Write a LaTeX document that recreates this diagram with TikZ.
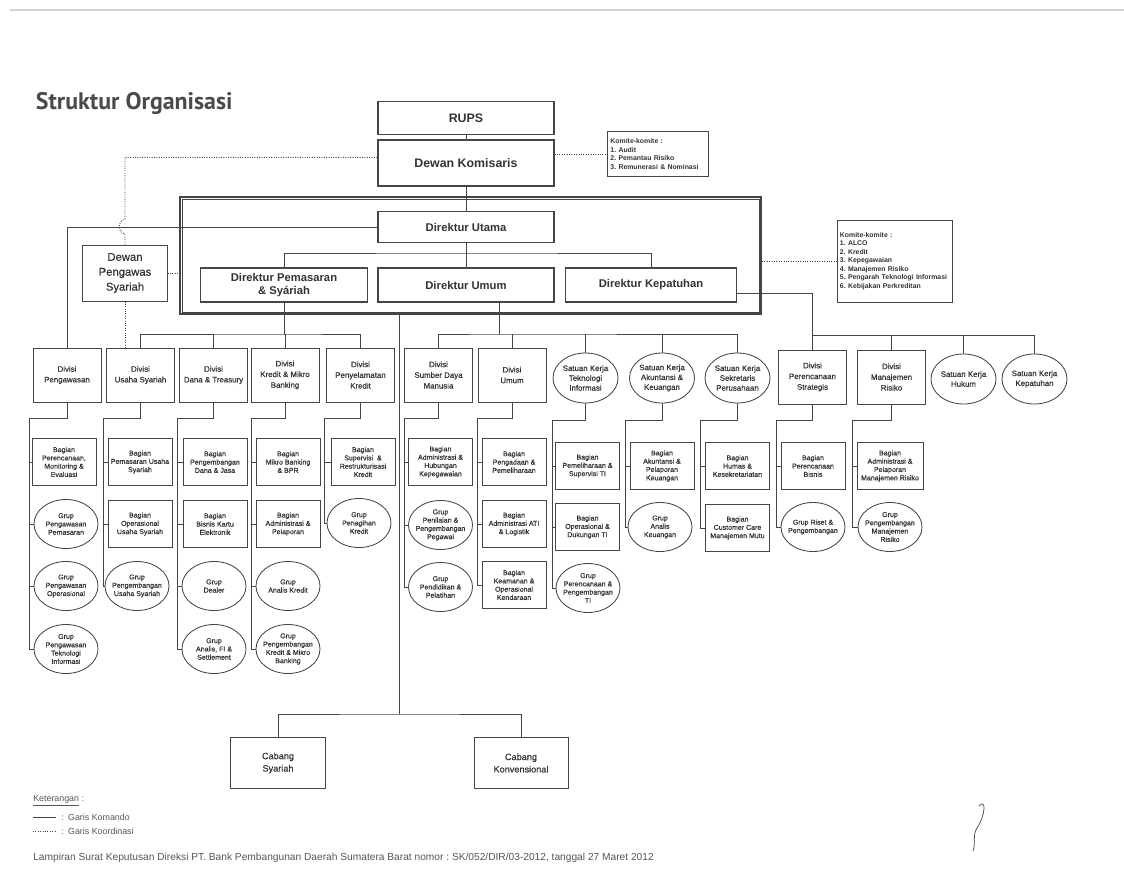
\documentclass[tikz,border=0pt]{standalone}
\usepackage{fontspec}
\setmainfont{Liberation Sans}
\newfontfamily\titlefont{PT Sans}
\newfontfamily\scanfont{Liberation Sans}[FakeBold=0.5]
\usepackage{tikz}
\usetikzlibrary{positioning,shapes.geometric}
\definecolor{ink}{HTML}{333333}
\definecolor{rule}{HTML}{454545}
\definecolor{judulgray}{HTML}{4A4A4A}
\definecolor{notegray}{HTML}{555555}

\begin{document}
\frenchspacing
\begin{tikzpicture}[x=0.025cm,y=-0.025cm,
  every node/.style={text=ink},
  komando/.style={draw=rule,line width=0.6pt},
  koord/.style={draw=rule,line width=0.7pt,densely dotted},
  topbox/.style={draw=rule,line width=0.9pt,rectangle,inner sep=1pt,minimum width=4.4cm,font=\fontsize{8.8}{10}\selectfont\bfseries},
  dirbox/.style={draw=rule,line width=0.8pt,rectangle,inner sep=1pt,minimum height=0.85cm,align=center,font=\fontsize{8}{9.6}\selectfont\bfseries},
  komite/.style={draw=rule,line width=0.7pt,rectangle,inner xsep=2pt,align=left,font=\fontsize{4.9}{6}\selectfont\bfseries},
  divbox/.style={draw=rule,line width=0.6pt,rectangle,inner sep=1pt,minimum width=1.7cm,minimum height=1.35cm,align=center,font=\scanfont\fontsize{5.6}{7.6}\selectfont},
  skell/.style={draw=rule,line width=0.6pt,ellipse,inner sep=-2pt,minimum width=1.625cm,minimum height=1.25cm,align=center,font=\scanfont\fontsize{5.6}{7}\selectfont},
  subbox/.style={draw=rule,line width=0.6pt,rectangle,inner sep=1pt,minimum width=1.6cm,minimum height=1.175cm,align=center,font=\scanfont\fontsize{5}{5.9}\selectfont},
  grup/.style={draw=rule,line width=0.6pt,ellipse,inner sep=-2pt,minimum width=1.6cm,minimum height=1.225cm,align=center,font=\scanfont\fontsize{5}{5.9}\selectfont},
  cabbox/.style={draw=rule,line width=0.7pt,rectangle,inner sep=1pt,minimum width=2.35cm,minimum height=1.275cm,align=center,font=\scanfont\fontsize{6.5}{8.8}\selectfont}
]
\useasboundingbox (0,0) rectangle (1124,894);
\draw[gray!35,line width=1pt] (10,10) -- (1124,10);

% judul
\node[anchor=west,text=judulgray,font=\titlefont\bfseries\fontsize{17}{20}\selectfont] (judul) at (31,103) {Struktur Organisasi};

% pimpinan
\node[topbox,minimum height=0.825cm] (rups) at (466,118) {RUPS};
\node[topbox,minimum height=1.15cm] (dk) at (466,163) {Dewan Komisaris};
\node[draw=rule,line width=1.4pt,inner sep=0pt,minimum width=14.525cm,minimum height=2.925cm] (frame) at (470.5,255.5) {};
\draw[rule,line width=0.5pt] ([shift={(3,3)}]frame.north west) rectangle ([shift={(-3,-3)}]frame.south east);
\node[dirbox,minimum width=4.4cm,minimum height=0.775cm] (dirut) at (466,227) {Direktur Utama};
\node[dirbox,minimum width=4.175cm] (dirps) at (284,285) {Direktur Pemasaran\\\& Syáriah};
\node[dirbox,minimum width=4.4cm] (dirum) at (466,285) {Direktur Umum};
\node[dirbox,minimum width=4.275cm] (dirkep) at (651,285) {Direktur Kepatuhan};

\node[komite,text width=2.375cm,minimum height=1.125cm] (kom1) at (658,154) {Komite-komite :\\1. Audit\\2. Pemantau Risiko\\3. Remunerasi \& Nominasi};
\node[komite,text width=2.75cm,minimum height=2.05cm] (kom2) at (895,261) {Komite-komite :\\1. ALCO\\2. Kredit\\3. Kepegawaian\\4. Manajemen Risiko\\5. Pengarah Teknologi Informasi\\6. Kebijakan Perkreditan};

\node[draw=rule,line width=0.7pt,rectangle,minimum width=2.1cm,minimum height=1.4cm,align=center,font=\scanfont\fontsize{8}{10.6}\selectfont] (dps) at (125,273) {Dewan\\Pengawas\\Syariah};

% divisi dan satuan kerja
\node[divbox] (divpeng) at (67,375) {Divisi\\Pengawasan};
\node[divbox] (divus) at (140.5,375) {Divisi\\Usaha Syariah};
\node[divbox] (divdt) at (213.5,375) {Divisi\\Dana \& Treasury};
\node[divbox] (divkmb) at (285,375) {Divisi\\Kredit \& Mikro\\Banking};
\node[divbox] (divpk) at (360.5,375) {Divisi\\Penyelamatan\\Kredit};
\node[divbox] (divsdm) at (438.5,375) {Divisi\\Sumber Daya\\Manusia};
\node[divbox] (divum) at (512,375) {Divisi\\Umum};
\node[skell] (skti) at (585.5,378) {Satuan Kerja\\Teknologi\\Informasi};
\node[skell] (skak) at (662,378) {Satuan Kerja\\Akuntansi \&\\Keuangan};
\node[skell] (sksp) at (737.5,378) {Satuan Kerja\\Sekretaris\\Perusahaan};
\node[divbox] (divps) at (812.5,377) {Divisi\\Perencanaan\\Strategis};
\node[divbox] (divmr) at (891.5,377) {Divisi\\Manajemen\\Risiko};
\node[skell] (skh) at (963.5,379) {Satuan Kerja\\Hukum};
\node[skell] (skk) at (1034.5,379) {Satuan Kerja\\Kepatuhan};

% bagian dan grup
\node[subbox] (c1a) at (64,462) {Bagian\\Perencanaan,\\Monitoring \&\\Evaluasi};
\node[grup] (c1b) at (66,524) {Grup\\Pengawasan\\Pemasaran};
\node[grup] (c1c) at (66,586) {Grup\\Pengawasan\\Operasional};
\node[grup] (c1d) at (66,649) {Grup\\Pengawasan\\Teknologi\\Informasi};

\node[subbox] (c2a) at (140,462) {Bagian\\Pemasaran Usaha\\Syariah};
\node[subbox] (c2b) at (140,524) {Bagian\\Operasional\\Usaha Syariah};
\node[grup] (c2c) at (137,586) {Grup\\Pengembangan\\Usaha Syariah};

\node[subbox] (c3a) at (215,462) {Bagian\\Pengembangan\\Dana \& Jasa};
\node[subbox] (c3b) at (215,524) {Bagian\\Bisnis Kartu\\Elektronik};
\node[grup] (c3c) at (214,586) {Grup\\Dealer};
\node[grup] (c3d) at (214,649) {Grup\\Analis, FI \&\\Settlement};

\node[subbox] (c4a) at (288,462) {Bagian\\Mikro Banking\\\& BPR};
\node[subbox] (c4b) at (288,524) {Bagian\\Administrasi \&\\Pelaporan};
\node[grup] (c4c) at (288,586) {Grup\\Analis Kredit};
\node[grup] (c4d) at (288,649) {Grup\\Pengembangan\\Kredit \& Mikro\\Banking};

\node[subbox] (c5a) at (363,462) {Bagian\\Supervisi \ \&\\Restrukturisasi\\Kredit};
\node[grup] (c5b) at (359,523) {Grup\\Penagihan\\Kredit};

\node[subbox] (c6a) at (440.5,462) {Bagian\\Administrasi \&\\Hubungan\\Kepegawaian};
\node[grup] (c6b) at (440.5,525) {Grup\\Penilaian \&\\Pengembangan\\Pegawai};
\node[grup] (c6c) at (440.5,587) {Grup\\Pendidikan \&\\Pelatihan};

\node[subbox] (c7a) at (514,462) {Bagian\\Pengadaan \&\\Pemeliharaan};
\node[subbox] (c7b) at (514,524) {Bagian\\Administrasi ATI\\\& Logistik};
\node[subbox] (c7c) at (514,585) {Bagian\\Keamanan \&\\Operasional\\Kendaraan};

\node[subbox] (c8a) at (587.5,466) {Bagian\\Pemeliharaan \&\\Supervisi TI};
\node[subbox] (c8b) at (587.5,527) {Bagian\\Operasional \&\\Dukungan TI};
\node[grup] (c8c) at (588,588) {Grup\\Perencanaan \&\\Pengembangan\\TI};

\node[subbox] (c9a) at (662,466) {Bagian\\Akuntansi \&\\Pelaporan\\Keuangan};
\node[grup] (c9b) at (660,527) {Grup\\Analis\\Keuangan};

\node[subbox] (c10a) at (737.5,466) {Bagian\\Humas \&\\Kesekretariatan};
\node[subbox] (c10b) at (737.5,528) {Bagian\\Customer Care\\Manajemen Mutu};

\node[subbox] (c11a) at (813,466) {Bagian\\Perencanaan\\Bisnis};
\node[grup] (c11b) at (813,527) {Grup Riset \&\\Pengembangan};

\node[subbox,minimum width=1.65cm] (c12a) at (890,466) {Bagian\\Administrasi \&\\Pelaporan\\Manajemen Risiko};
\node[grup] (c12b) at (890,527) {Grup\\Pengembangan\\Manajemen\\Risiko};

% cabang
\node[cabbox] (cabs) at (278,763) {Cabang\\Syariah};
\node[cabbox] (cabk) at (521,763) {Cabang\\Konvensional};

% garis komando atas
\coordinate (bus0) at (466,253);
\coordinate (bus1) at (284,334);
\coordinate (bus2) at (499,334);
\coordinate (bus4) at (813,335);
\coordinate (bus3) at (399,714);
\draw[komando] (rups) -- (dk);
\draw[komando] (dk) -- (dirut);
\draw[komando] (dirut) -- (bus0);
\draw[komando] (dirps.north) |- (bus0) -| (dirkep.north);
\draw[komando] (bus0) -- (dirum);
\draw[komando] (dirut.west) -| (divpeng.north);

\draw[komando] (dirps.south) -- (bus1);
\draw[komando] (divus.north) |- (bus1) -| (divpk.north);
\draw[komando] (bus1 -| divdt) -- (divdt.north);
\draw[komando] (bus1 -| divkmb) -- (divkmb.north);

\draw[komando] (bus2 |- dirum.south) -- (bus2);
\draw[komando] (divsdm.north) |- (bus2) -| (sksp.north);
\draw[komando] (bus2 -| divum) -- (divum.north);
\draw[komando] (bus2 -| skti) -- (skti.north);
\draw[komando] (bus2 -| skak) -- (skak.north);

\draw[komando] ([yshift=-6pt]dirkep.east) -| (divps.north);
\draw[komando] (bus4) -| (skk.north);
\draw[komando] (bus4 -| divmr) -- (divmr.north);
\draw[komando] (bus4 -| skh) -- (skh.north);

\draw[komando] (frame.south -| bus3) -- (bus3);
\draw[komando] (cabs.north) |- (bus3) -| (cabk.north);

% garis koordinasi
\coordinate (hopA) at (125,219);
\coordinate (hopB) at (125,234);
\draw[koord] ([yshift=4pt]dk.west) -| (hopA) .. controls +(-8,3) and +(-8,-3) .. (hopB) -- (dps.north);
\draw[koord] (dps.east) -- (dps.east -| frame.west);
\draw[koord] (dps.south) -- (dps.south |- divus.north);
\draw[koord] (kom1.west -| dk.east) -- (kom1.west);
\draw[koord] (kom2.west -| frame.east) -- (kom2.west);

% garis ke bagian / grup
\coordinate (s1) at (29,418);
\coordinate (s2) at (103,418);
\coordinate (s3) at (177,418);
\coordinate (s4) at (251,418);
\coordinate (s5) at (324,418);
\coordinate (s6) at (404,418);
\coordinate (s7) at (477,418);
\coordinate (s8) at (552,420);
\coordinate (s9) at (625,420);
\coordinate (s10) at (700,420);
\coordinate (s11) at (776,420);
\coordinate (s12) at (852,420);

\draw[komando] (divpeng.south) |- (s1) |- (c1d.west);
\foreach \n in {c1a,c1b,c1c} \draw[komando] (s1 |- \n.west) -- (\n.west);
\draw[komando] (divus.south) |- (s2) |- (c2c.west);
\foreach \n in {c2a,c2b} \draw[komando] (s2 |- \n.west) -- (\n.west);
\draw[komando] (divdt.south) |- (s3) |- (c3d.west);
\foreach \n in {c3a,c3b,c3c} \draw[komando] (s3 |- \n.west) -- (\n.west);
\draw[komando] (divkmb.south) |- (s4) |- (c4d.west);
\foreach \n in {c4a,c4b,c4c} \draw[komando] (s4 |- \n.west) -- (\n.west);
\draw[komando] (divpk.south) |- (s5) |- (c5b.west);
\draw[komando] (s5 |- c5a.west) -- (c5a.west);
\draw[komando] (divsdm.south) |- (s6) |- (c6c.west);
\foreach \n in {c6a,c6b} \draw[komando] (s6 |- \n.west) -- (\n.west);
\draw[komando] (divum.south) |- (s7) |- (c7c.west);
\foreach \n in {c7a,c7b} \draw[komando] (s7 |- \n.west) -- (\n.west);
\draw[komando] (skti.south) |- (s8) |- (c8c.west);
\foreach \n in {c8a,c8b} \draw[komando] (s8 |- \n.west) -- (\n.west);
\draw[komando] (skak.south) |- (s9) |- (c9b.west);
\draw[komando] (s9 |- c9a.west) -- (c9a.west);
\draw[komando] (sksp.south) |- (s10) |- (c10b.west);
\draw[komando] (s10 |- c10a.west) -- (c10a.west);
\draw[komando] (divps.south) |- (s11) |- (c11b.west);
\draw[komando] (s11 |- c11a.west) -- (c11a.west);
\draw[komando] (divmr.south) |- (s12) |- (c12b.west);
\draw[komando] (s12 |- c12a.west) -- (c12a.west);

% keterangan
\node[anchor=west,inner sep=0pt,text=notegray,font=\fontsize{6.3}{7}\selectfont] (ket) at (33,801) {\underline{Keterangan} :};
\coordinate (lgA) at (33,817);
\coordinate (lgB) at (56,817);
\coordinate (lgC) at (33,831);
\coordinate (lgD) at (56,831);
\draw[komando] (lgA) -- (lgB);
\draw[koord,line width=0.5pt] (lgC) -- (lgD);
\node[anchor=west,inner sep=0pt,text=notegray,font=\fontsize{6.3}{7}\selectfont] (lgK) at (61,817) {:\enspace Garis Komando};
\node[anchor=west,inner sep=0pt,text=notegray,font=\fontsize{6.3}{7}\selectfont] (lgO) at (61,831) {:\enspace Garis Koordinasi};
\node[anchor=west,inner sep=0pt,text=notegray,font=\fontsize{7.25}{8}\selectfont] (lampiran) at (33,858) {Lampiran Surat Keputusan Direksi PT. Bank Pembangunan Daerah Sumatera Barat nomor : SK/052/DIR/03-2012, tanggal 27 Maret 2012};

% paraf
\draw[rule,line width=0.5pt] (979,806) .. controls (986,798) and (986,814) .. (977,828) .. controls (972,836) and (976,843) .. (973,851);
\end{tikzpicture}
\end{document}
